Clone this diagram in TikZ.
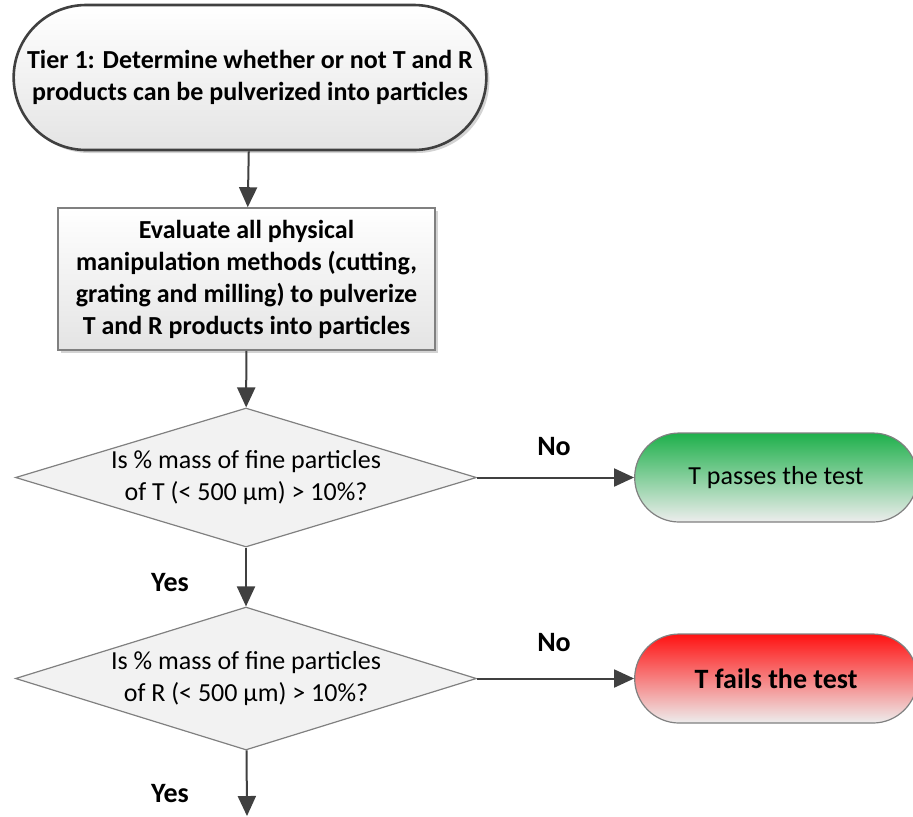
\documentclass[tikz,border=0pt]{standalone}
\usepackage{fontspec}
\setmainfont{Carlito}
\usetikzlibrary{shapes.geometric,shapes.misc,arrows.meta,shadows}
\definecolor{linegray}{RGB}{64,64,64}
\definecolor{passgreen}{RGB}{30,176,75}
\definecolor{failred}{RGB}{255,18,18}
\definecolor{paleshade}{RGB}{228,228,228}

\begin{document}
\begin{tikzpicture}[x = 0.5pt, y = -0.5pt,
  flow/.style = {draw=linegray, line width=1pt, -{Triangle[length=10pt,width=9pt]}},
  tierbox/.style = {rounded rectangle, draw=linegray, line width=1.3pt,
    top color=white, bottom color=paleshade, align=center,
    font=\fontsize{13}{16}\selectfont\bfseries,
    drop shadow={shadow xshift=1.5pt, shadow yshift=-1.5pt, opacity=0.35}},
  taskbox/.style = {rectangle, draw=gray, line width=0.8pt,
    top color=white, bottom color=paleshade, align=center,
    font=\fontsize{13}{16}\selectfont\bfseries,
    drop shadow={shadow xshift=1.5pt, shadow yshift=-1.5pt, opacity=0.35}},
  question/.style = {diamond, aspect=3.32, draw=gray, line width=0.6pt, inner sep=0pt,
    fill=black!5, align=center, font=\fontsize{13}{16}\selectfont},
  outcome/.style = {rounded rectangle, draw=gray, line width=0.6pt,
    minimum width=148pt, minimum height=44.5pt,
    font=\fontsize{13}{15}\selectfont},
  answer/.style = {font=\fontsize{14}{16}\selectfont\bfseries}
  ]
  \clip (0,0) rectangle (913,816);

  \node [tierbox, minimum width=243pt, minimum height=72.5pt] (tier) at (250, 77.5)
    {Tier 1: Determine whether or not T and R\\ products can be pulverized into particles};
  \node [taskbox, minimum width=188.5pt, minimum height=71pt] (evaluate) at (246.5, 279)
    {Evaluate all physical\\ manipulation methods (cutting,\\ grating and milling) to pulverize\\ T and R products into particles};

  \node [question, minimum width=230.5pt, minimum height=69.5pt] (massT) at (246, 477.5)
    {Is \% mass of fine particles\\ of T (< 500 µm) > 10\%?};
  \node [question, minimum width=230.5pt, minimum height=71.5pt] (massR) at (246, 678.5)
    {Is \% mass of fine particles\\ of R (< 500 µm) > 10\%?};

  \node [outcome, top color=passgreen, bottom color=black!7] (pass) at (776, 477.5)
    {T passes the test};
  \node [outcome, top color=failred, bottom color=black!7, font=\fontsize{14}{16}\selectfont\bfseries] (fail) at (776, 678.5)
    {T fails the test};

  \coordinate (next) at (247, 816);

  \draw [flow] (tier) -- (evaluate);
  \draw [flow] (evaluate) -- (massT);
  \draw [flow] (massT) -- (massR);
  \draw [flow] (massR) -- (next);
  \draw [flow] (massT.east) -- (pass.west);
  \draw [flow] (massR.east) -- (fail.west);

  \node [answer] (noT) at (554, 447) {No};
  \node [answer] (yesT) at (170, 583) {Yes};
  \node [answer] (noR) at (554, 643) {No};
  \node [answer] (yesR) at (170, 793) {Yes};
\end{tikzpicture}
\end{document}
